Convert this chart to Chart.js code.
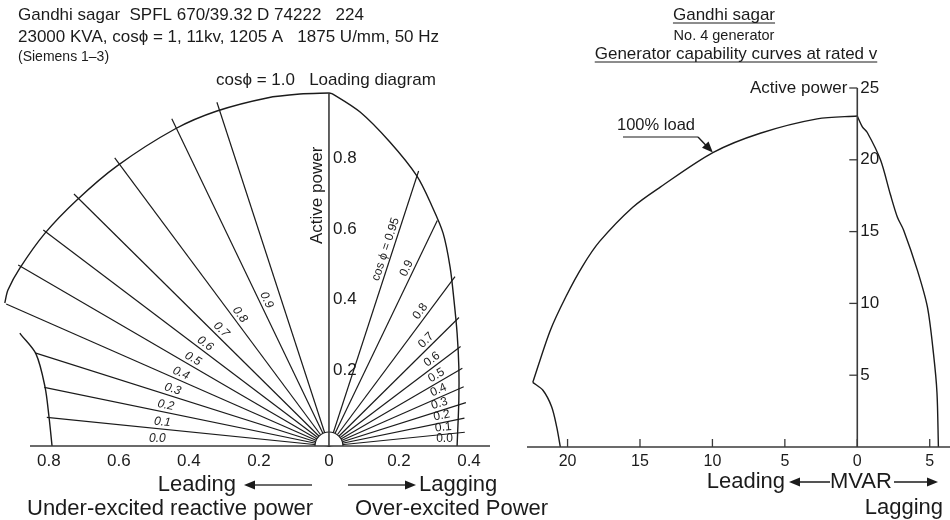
<!DOCTYPE html>
<html>
<head>
<meta charset="utf-8">
<script src="https://cdn.jsdelivr.net/npm/chart.js@4/dist/chart.umd.min.js"></script>
<style>
  body { margin: 0; background: #fff; width: 950px; height: 520px; position: relative; overflow: hidden; }
  #carga { position: absolute; left: 0; top: 0; }
  #capacidad { position: absolute; left: 500px; top: 0; }
</style>
</head>
<body>
<canvas id="carga" width="580" height="520"></canvas>
<canvas id="capacidad" width="450" height="520"></canvas>
<script>
// ---- Diagrama de carga (p.u.) ----
const factoresLinea = [0.1, 0.2, 0.3, 0.4, 0.5, 0.6, 0.7, 0.8, 0.9, 0.95];
const largoAdelanto = [0.81, 0.83, 0.88, 1.006, 1.025, 1.02, 1.02, 1.02, 1.03, 1.025];
const largoAtraso = [0.39, 0.395, 0.41, 0.42, 0.44, 0.47, 0.52, 0.60, 0.71, 0.82];

const factoresEtiqAdelanto = [0, 0.1, 0.2, 0.3, 0.4, 0.5, 0.6, 0.7, 0.8, 0.9];
const textosEtiqAdelanto = ['0.0', '0.1', '0.2', '0.3', '0.4', '0.5', '0.6', '0.7', '0.8', '0.9'];
const radioEtiqAdelanto = [0.49, 0.48, 0.48, 0.474, 0.47, 0.46, 0.457, 0.45, 0.45, 0.45];

const factoresEtiqAtraso = [0, 0.1, 0.2, 0.3, 0.4, 0.5, 0.6, 0.7, 0.8, 0.9, 0.95];
const textosEtiqAtraso = ['0.0', '0.1', '0.2', '0.3', '0.4', '0.5', '0.6', '0.7', '0.8', '0.9', 'cos \u03d5 = 0.95'];
const radioEtiqAtraso = [0.33, 0.33, 0.333, 0.337, 0.35, 0.366, 0.383, 0.408, 0.462, 0.55, 0.58];

// limite de calentamiento del estator (arco) y limite de subexcitacion
const arcoQ = [0, -0.083, -0.177, -0.32, -0.44, -0.606, -0.72, -0.811, -0.883, -0.917, -0.926];
const arcoP = [1.0, 0.997, 0.986, 0.949, 0.898, 0.793, 0.697, 0.603, 0.504, 0.442, 0.405];
const subexQ = [-0.926, -0.911, -0.883, -0.837, -0.811, -0.8, -0.791];
const subexP = [0.405, 0.365, 0.32, 0.261, 0.167, 0.085, 0];
const sobreexQ = [0, 0.011, 0.089, 0.174, 0.251, 0.294, 0.326, 0.346, 0.357, 0.366, 0.371, 0.371, 0.366];
const sobreexP = [1.0, 0.997, 0.946, 0.861, 0.765, 0.68, 0.603, 0.507, 0.414, 0.32, 0.224, 0.13, 0];

const ticksQ = [-0.8, -0.6, -0.4, -0.2, 0, 0.2, 0.4];
const ticksP = [0.2, 0.4, 0.6, 0.8];

// ---- Curvas de capacidad, generador No. 4 (MVAR / MW) ----
const capArcoQ = [0, -2.77, -6.7, -9.97, -13.6, -15.5, -17.8, -18.96, -20.1, -21.2, -22.4];
const capArcoP = [23.05, 22.85, 21.85, 20.5, 18.1, 16.7, 14.3, 12.6, 10.5, 8.1, 4.5];
const capSubexQ = [-22.4, -21.7, -21.1, -20.75, -20.5];
const capSubexP = [4.5, 3.95, 2.8, 1.4, 0];
const capAtrasoQ = [0, 0.35, 0.69, 1.6, 2.28, 2.77, 3.2, 4.15, 4.84, 5.26, 5.5, 5.6];
const capAtrasoP = [23.05, 22.3, 21.9, 20.0, 17.6, 16.0, 15.1, 12.3, 9.75, 6.5, 3.8, 0];

const ticksMvar = [-20, -15, -10, -5, 0, 5];
const ticksMw = [5, 10, 15, 20, 25];
const puntoCarga = { q: -9.97, p: 20.5 };

const FUENTE = '"Liberation Sans", Arial, sans-serif';
const TINTA = '#1b1b1b';
const EJE = '#3a3a3a';
const RADIO_CUBO = 0.04;

function puntos(qs, ps) {
  return qs.map((q, i) => ({ x: q, y: ps[i] }));
}

function radial(pf, r, lado) {
  return { x: lado * r * Math.sqrt(1 - pf * pf), y: r * pf };
}

function trazo(data, ancho, tension) {
  return {
    data: data,
    showLine: true,
    pointRadius: 0,
    borderColor: TINTA,
    borderWidth: ancho,
    tension: tension,
    clip: false
  };
}

function linea(ctx, x1, y1, x2, y2) {
  ctx.beginPath();
  ctx.moveTo(x1, y1);
  ctx.lineTo(x2, y2);
  ctx.stroke();
}

function texto(ctx, str, x, y, tam, align, extra) {
  ctx.font = `${extra || ''} ${tam}px ${FUENTE}`;
  ctx.textAlign = align || 'left';
  ctx.textBaseline = 'middle';
  ctx.fillText(str, x, y);
}

function subrayado(ctx, str, xc, y, tam) {
  texto(ctx, str, xc, y, tam, 'center');
  const w = ctx.measureText(str).width;
  ctx.lineWidth = 1;
  linea(ctx, xc - w / 2, y + 8, xc + w / 2, y + 8);
}

// flecha con punta rellena en (x1, y1)
function flecha(ctx, x0, y0, x1, y1) {
  const ang = Math.atan2(y1 - y0, x1 - x0);
  const largo = 11, medio = 4.5;
  ctx.lineWidth = 1.4;
  linea(ctx, x0, y0, x1 - largo * 0.8 * Math.cos(ang), y1 - largo * 0.8 * Math.sin(ang));
  ctx.beginPath();
  ctx.moveTo(x1, y1);
  ctx.lineTo(x1 - largo * Math.cos(ang) + medio * Math.sin(ang), y1 - largo * Math.sin(ang) - medio * Math.cos(ang));
  ctx.lineTo(x1 - largo * Math.cos(ang) - medio * Math.sin(ang), y1 - largo * Math.sin(ang) + medio * Math.cos(ang));
  ctx.closePath();
  ctx.fill();
}

function rotular(ctx, x, y, factores, radios, textos, lado, fuente) {
  ctx.font = fuente;
  ctx.textAlign = 'center';
  ctx.textBaseline = 'middle';
  factores.forEach((pf, i) => {
    const p = radial(pf, radios[i], lado);
    const th = Math.asin(pf);
    const px = x.getPixelForValue(p.x) - lado * Math.sin(th) * 7;
    const py = y.getPixelForValue(p.y) - Math.cos(th) * 7;
    ctx.save();
    ctx.translate(px, py);
    ctx.rotate(-lado * th);
    ctx.fillText(textos[i], 0, 0);
    ctx.restore();
  });
}

// Dibujo del diagrama de carga
const dibujoCarga = {
  id: 'dibujoCarga',
  afterDatasetsDraw(chart) {
    const { ctx, chartArea, scales: { x, y } } = chart;
    const x0 = x.getPixelForValue(0);
    const y0 = y.getPixelForValue(0);
    ctx.save();

    const rc = x.getPixelForValue(RADIO_CUBO) - x0;
    ctx.beginPath();
    ctx.arc(x0, y0, rc, Math.PI, 2 * Math.PI);
    ctx.fillStyle = '#fff';
    ctx.fill();
    ctx.strokeStyle = TINTA;
    ctx.lineWidth = 1.2;
    ctx.stroke();

    ctx.strokeStyle = EJE;
    ctx.lineWidth = 1.6;
    linea(ctx, chartArea.left, y0, chartArea.right, y0);
    linea(ctx, x0, y0, x0, y.getPixelForValue(1));

    ctx.fillStyle = TINTA;
    ticksQ.forEach(v => texto(ctx, v === 0 ? '0' : Math.abs(v).toFixed(1), x.getPixelForValue(v), y0 + 15, 17, 'center'));
    ticksP.forEach(v => texto(ctx, v.toFixed(1), x0 + 4, y.getPixelForValue(v) - 5, 17, 'left'));

    rotular(ctx, x, y, factoresEtiqAdelanto, radioEtiqAdelanto, textosEtiqAdelanto, -1, `italic 12px ${FUENTE}`);
    rotular(ctx, x, y, factoresEtiqAtraso, radioEtiqAtraso, textosEtiqAtraso, 1, `12px ${FUENTE}`);

    ctx.save();
    ctx.translate(x0 - 12, y.getPixelForValue(0.71));
    ctx.rotate(-Math.PI / 2);
    texto(ctx, 'Active power', 0, 0, 17, 'center');
    ctx.restore();

    // encabezado
    texto(ctx, 'Gandhi sagar  SPFL 670/39.32 D 74222   224', 18, 15, 17);
    texto(ctx, '23000 KVA, cos\u03d5 = 1, 11kv, 1205 A   1875 U/mm, 50 Hz', 18, 37, 17);
    texto(ctx, '(Siemens 1\u20133)', 18, 57, 14);
    texto(ctx, 'cos\u03d5 = 1.0   Loading diagram', 216, 80, 17);

    // pie
    texto(ctx, 'Leading', 236, 485, 22, 'right');
    flecha(ctx, 312, 485, 244, 485);
    flecha(ctx, 348, 485, 416, 485);
    texto(ctx, 'Lagging', 419, 485, 22, 'left');
    texto(ctx, 'Under-excited reactive power', 27, 509, 22, 'left');
    texto(ctx, 'Over-excited Power', 355, 509, 22, 'left');
    ctx.restore();
  }
};

// Dibujo de la curva de capacidad
const dibujoCapacidad = {
  id: 'dibujoCapacidad',
  afterDatasetsDraw(chart) {
    const { ctx, chartArea, scales: { x, y } } = chart;
    const x0 = x.getPixelForValue(0);
    const y0 = y.getPixelForValue(0);
    ctx.save();
    ctx.strokeStyle = EJE;
    ctx.fillStyle = TINTA;
    ctx.lineWidth = 1.6;
    linea(ctx, chartArea.left, y0, chartArea.right, y0);
    linea(ctx, x0, y0, x0, y.getPixelForValue(25));

    ctx.lineWidth = 1.3;
    ticksMvar.forEach(v => {
      const px = x.getPixelForValue(v);
      linea(ctx, px, y0, px, y0 - 8);
      texto(ctx, String(Math.abs(v)), px, y0 + 15, 16, 'center');
    });
    ticksMw.forEach(v => {
      const py = y.getPixelForValue(v);
      linea(ctx, x0 - 8, py, x0, py);
      texto(ctx, String(v), x0 + 3, py, 17, 'left');
    });
    texto(ctx, 'Active power', x0 - 10, y.getPixelForValue(25), 17, 'right');

    // 100% load
    texto(ctx, '100% load', 117, 125, 16.5, 'left');
    ctx.strokeStyle = TINTA;
    ctx.lineWidth = 1.2;
    linea(ctx, 123, 137, 198, 137);
    flecha(ctx, 198, 137, x.getPixelForValue(puntoCarga.q), y.getPixelForValue(puntoCarga.p));

    // titulos
    subrayado(ctx, 'Gandhi sagar', 224, 15, 17);
    texto(ctx, 'No. 4 generator', 224, 36, 14.5, 'center');
    subrayado(ctx, 'Generator capability curves at rated v', 236, 54, 17);

    // pie
    ctx.strokeStyle = TINTA;
    texto(ctx, 'Leading', 285, 482, 22, 'right');
    flecha(ctx, 330, 482, 289, 482);
    texto(ctx, 'MVAR', 330, 482, 22, 'left');
    flecha(ctx, 394, 482, 438, 482);
    texto(ctx, 'Lagging', 443, 508, 22, 'right');
    ctx.restore();
  }
};

const opcionesBase = (padding, xMin, xMax, yMax) => ({
  responsive: false,
  animation: false,
  events: [],
  layout: { padding: padding },
  plugins: { legend: { display: false }, tooltip: { enabled: false } },
  scales: {
    x: { type: 'linear', display: false, min: xMin, max: xMax },
    y: { type: 'linear', display: false, min: 0, max: yMax }
  }
});

const lineasFactor = factoresLinea.flatMap((pf, i) => [
  trazo([{ x: 0, y: 0 }, radial(pf, largoAdelanto[i], -1)], 1.2, 0),
  trazo([{ x: 0, y: 0 }, radial(pf, largoAtraso[i], 1)], 1.2, 0)
]);

new Chart(document.getElementById('carga'), {
  type: 'scatter',
  data: {
    datasets: [
      ...lineasFactor,
      trazo(puntos(arcoQ, arcoP), 1.4, 0.3),
      trazo(puntos(subexQ, subexP), 1.4, 0.3),
      trazo(puntos(sobreexQ, sobreexP), 1.4, 0.3)
    ]
  },
  options: opcionesBase({ left: 30, right: 90, top: 93, bottom: 74 }, -0.854, 0.46, 1.0),
  plugins: [dibujoCarga]
});

new Chart(document.getElementById('capacidad'), {
  type: 'scatter',
  data: {
    datasets: [
      trazo(puntos(capArcoQ, capArcoP), 1.4, 0.3),
      trazo(puntos(capSubexQ, capSubexP), 1.4, 0.3),
      trazo(puntos(capAtrasoQ, capAtrasoP), 1.4, 0.3)
    ]
  },
  options: opcionesBase({ left: 27, right: 0, top: 88, bottom: 73 }, -22.8, 6.4, 25),
  plugins: [dibujoCapacidad]
});
</script>
</body>
</html>
